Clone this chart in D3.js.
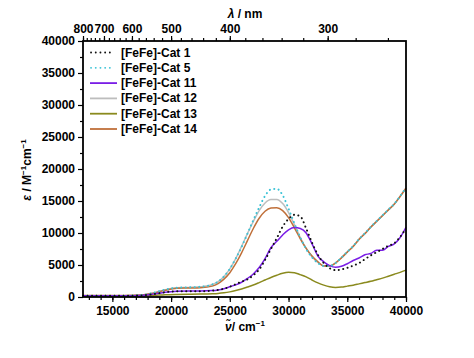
<!DOCTYPE html>
<html><head><meta charset="utf-8">
<script src="https://cdn.jsdelivr.net/npm/d3@7"></script>
<style>body{margin:0;background:#fff;}svg text{font-family:"Liberation Sans",Arial,sans-serif;}</style>
</head><body><svg id="c" width="474" height="358"></svg>
<script>
const wavenumber = [12500,14000,16000,17500,18500,19500,20500,21500,22500,23500,24000,24500,25000,25500,26000,26500,27000,27500,28000,28500,29000,29500,30000,30500,31000,31500,32000,32500,33000,33500,34000,34500,35000,35500,36000,36500,37000,37500,38000,38500,39000,39500,40000];
const cat1  = [200,200,200,250,450,750,900,900,900,1000,1100,1300,1600,2000,2400,2750,3400,4300,5800,7500,9200,11000,12200,12850,12600,10700,8500,6600,5300,4500,4200,4300,4550,4900,5300,5900,6500,7000,7500,8000,8400,9400,10700];
const cat5  = [200,200,200,300,650,1150,1450,1500,1600,1950,2400,3200,4400,6000,7800,9900,12000,14000,15800,16800,16900,15900,13800,11500,9300,7500,6200,5300,4850,4850,5300,6150,7050,7950,9050,9950,10950,11850,12750,13650,14550,15750,17050];
const cat11 = [200,200,200,250,450,750,900,950,950,1000,1100,1300,1600,1900,2300,2900,3600,4600,6000,7700,8700,9700,10500,10850,10700,10000,8300,6400,5500,4900,4650,4800,5200,5700,6100,6600,6800,7300,7300,7900,8300,9300,10900];
const cat12 = [200,200,200,300,650,1150,1450,1500,1600,1950,2400,3200,4400,6000,7900,9900,11800,13500,14700,15250,15250,14600,13200,11300,9300,7600,6300,5400,4900,4900,5350,6150,7050,7950,9050,9950,10950,11850,12750,13650,14550,15750,17050];
const cat13 = [150,150,150,180,250,350,400,430,450,500,550,650,800,1000,1250,1550,1870,2250,2650,3050,3400,3700,3850,3800,3500,3150,2650,2200,1850,1600,1500,1550,1700,1850,2050,2250,2450,2700,2950,3250,3550,3850,4200];
const cat14 = [250,250,250,300,600,1050,1350,1400,1450,1700,2100,2800,3800,5200,6900,8800,10700,12300,13400,13900,13950,13500,12400,10800,9100,7600,6400,5500,4850,4850,5300,6100,7000,7900,9000,9900,10900,11800,12700,13600,14500,15700,17000];
const seriesNames = ["[FeFe]-Cat 1","[FeFe]-Cat 5","[FeFe]-Cat 11","[FeFe]-Cat 12","[FeFe]-Cat 13","[FeFe]-Cat 14"];
const seriesColors = ["#111111","#3cc3d6","#7a1de6","#bdbdbd","#8a8a1e","#c0703a"];
const seriesDash = ["0.1,4.4","0.1,4.4",null,null,null,null];
const seriesValues = [cat1,cat5,cat11,cat12,cat13,cat14];
const xTicks = [15000,20000,25000,30000,35000,40000];
const yTicks = [0,5000,10000,15000,20000,25000,30000,35000,40000];
const lambdaMajor = [800,700,600,500,400,300];

const svg = d3.select("#c");
const L=83,R=406,T=41,B=297;
const x = d3.scaleLinear().domain([12500,40000]).range([L,R]);
const y = d3.scaleLinear().domain([0,40000]).range([B,T]);

const font = "bold 12px 'Liberation Sans', Arial, sans-serif";

// bottom axis
const xMinor = d3.range(13000,40001,1000);
const gx = svg.append("g").attr("transform",`translate(0,${B})`);
gx.call(d3.axisBottom(x).tickValues(xMinor).tickSize(3).tickFormat(""));
gx.call(g=>g.select(".domain").remove());
const gx2 = svg.append("g").attr("transform",`translate(0,${B})`);
gx2.call(d3.axisBottom(x).tickValues(xTicks).tickSize(5).tickPadding(4).tickFormat(d3.format("d")));
gx2.select(".domain").remove();
gx2.selectAll("text").style("font",font).attr("fill","#000");

// left axis
const gy = svg.append("g").attr("transform",`translate(${L},0)`);
gy.call(d3.axisLeft(y).tickValues(d3.range(2500,40000,5000)).tickSize(3).tickFormat(""));
gy.select(".domain").remove();
const gy2 = svg.append("g").attr("transform",`translate(${L},0)`);
gy2.call(d3.axisLeft(y).tickValues(yTicks).tickSize(5).tickPadding(3).tickFormat(d3.format("d")));
gy2.select(".domain").remove();
gy2.selectAll("text").style("font",font).attr("fill","#000");

// top axis (wavelength)
const lamMinor = d3.range(260,801,20);
const gt = svg.append("g").attr("transform",`translate(0,${T})`);
gt.call(d3.axisTop(x).tickValues(lamMinor.map(l=>1e7/l)).tickSize(3).tickFormat(""));
gt.select(".domain").remove();
const gt2 = svg.append("g").attr("transform",`translate(0,${T})`);
gt2.call(d3.axisTop(x).tickValues(lambdaMajor.map(l=>1e7/l)).tickSize(5).tickPadding(3).tickFormat(v=>Math.round(1e7/v)));
gt2.select(".domain").remove();
gt2.selectAll("text").style("font",font).attr("fill","#000");
svg.selectAll(".tick line").attr("stroke","#000").attr("stroke-width",1.2);

// lines
const line = d3.line().x((d,i)=>x(wavenumber[i])).y(d=>y(d)).curve(d3.curveMonotoneX);
const order = [3,5,4,2,1,0];
order.forEach(k=>{
  svg.append("path").datum(seriesValues[k]).attr("d",line)
    .attr("fill","none").attr("stroke",seriesColors[k])
    .attr("stroke-width",seriesDash[k]?2:1.5)
    .attr("stroke-dasharray",seriesDash[k]).attr("stroke-linecap",seriesDash[k]?"round":"butt");
});

// frame
svg.append("rect").attr("x",L).attr("y",T).attr("width",R-L).attr("height",B-T)
  .attr("fill","none").attr("stroke","#000").attr("stroke-width",1.8);

// legend
seriesNames.forEach((n,i)=>{
  const yy = 52.5 + i*15.3;
  svg.append("line").attr("x1",seriesDash[i]?91:90).attr("x2",seriesDash[i]?113:117).attr("y1",yy).attr("y2",yy)
    .attr("stroke",seriesColors[i]).attr("stroke-width",1.8)
    .attr("stroke-dasharray",seriesDash[i]?"0.1,4.6":null).attr("stroke-linecap",seriesDash[i]?"round":"butt");
  svg.append("text").attr("x",121).attr("y",yy+4).text(n)
    .style("font","bold 12px 'Liberation Sans', Arial, sans-serif").attr("fill","#000");
});

// titles
const tt = svg.append("text").attr("x",245).attr("y",18).attr("text-anchor","middle")
  .style("font","bold 12px 'Liberation Sans', Arial, sans-serif");
tt.append("tspan").attr("font-style","italic").text("λ");
tt.append("tspan").text(" / nm");

const xt = svg.append("text").attr("x",245).attr("y",331).attr("text-anchor","middle")
  .style("font","bold 12px 'Liberation Sans', Arial, sans-serif");
xt.append("tspan").attr("font-style","italic").text("ν\u0303");
xt.append("tspan").text("/ cm");
xt.append("tspan").attr("dy",-5).style("font-size","8px").text("−1");

const yt = svg.append("text").attr("transform","translate(31,170) rotate(-90)").attr("text-anchor","middle")
  .style("font","bold 12px 'Liberation Sans', Arial, sans-serif");
yt.append("tspan").attr("font-style","italic").text("ε");
yt.append("tspan").text(" / M");
yt.append("tspan").attr("dy",-5).style("font-size","8px").text("−1");
yt.append("tspan").attr("dy",5).text("cm");
yt.append("tspan").attr("dy",-5).style("font-size","8px").text("−1");
</script></body></html>
